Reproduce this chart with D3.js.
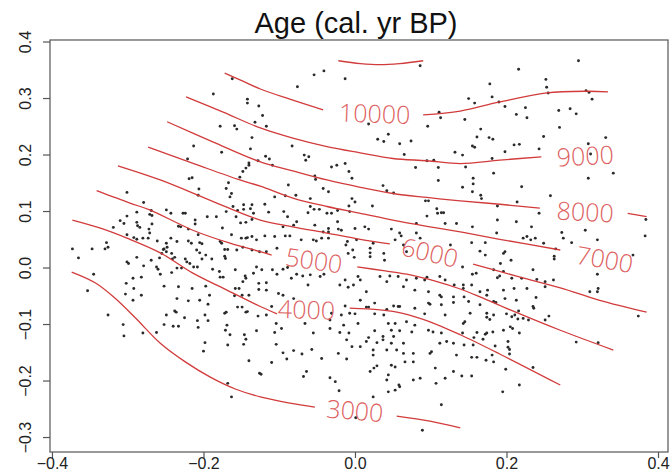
<!DOCTYPE html>
<html><head><meta charset="utf-8">
<script src="https://cdn.jsdelivr.net/npm/d3@7"></script>
<style>body{margin:0;background:#fff}svg{display:block}</style>
</head><body>
<svg id="chart" width="671" height="475"></svg>
<script>
const chartTitle = "Age (cal. yr BP)";
const xTicks = [-0.4, -0.2, 0.0, 0.2, 0.4];
const yTicks = [-0.3, -0.2, -0.1, 0.0, 0.1, 0.2, 0.3, 0.4];
const xLimits = [-0.4026, 0.4132];
const yLimits = [-0.3265, 0.4027];

const sitePoints = [
[-0.162,0.334],[-0.187,0.307],[-0.142,0.298],[-0.142,0.291],[-0.127,0.286],[-0.178,0.250],[-0.159,0.251],[-0.156,0.245],[-0.132,0.257],[-0.136,0.230],[-0.213,0.215],[-0.176,0.204],[-0.138,0.210],[-0.221,0.192],[-0.128,0.189],[-0.140,0.185],[-0.140,0.181],[-0.144,0.176],[-0.148,0.170],[-0.215,0.159],[-0.219,0.157],[-0.152,0.160],
[0.086,0.357],[-0.054,0.341],[-0.041,0.348],[-0.076,0.320],[-0.013,0.334],[-0.122,0.269],[-0.117,0.250],[0.018,0.254],[0.111,0.275],[0.113,0.265],[0.096,0.250],[0.044,0.236],[0.030,0.227],[0.038,0.223],[0.059,0.219],[0.074,0.224],[0.065,0.200],[-0.083,0.215],[-0.118,0.197],[-0.113,0.192],[-0.109,0.181],[-0.067,0.199],[-0.061,0.196],[-0.065,0.190],[-0.031,0.178],[-0.024,0.181],[-0.013,0.184],[-0.008,0.170],[-0.053,0.162],[-0.052,0.156],[0.095,0.189],[0.104,0.190],[0.080,0.177],[0.110,0.177],[0.132,0.204],[-0.004,0.158],
[0.295,0.366],[0.216,0.351],[0.178,0.325],[0.252,0.333],[0.253,0.319],[0.255,0.309],[0.305,0.313],[0.309,0.310],[0.313,0.298],[0.181,0.302],[0.150,0.299],[0.158,0.291],[0.190,0.293],[0.198,0.285],[0.213,0.271],[0.225,0.283],[0.227,0.265],[0.269,0.278],[0.284,0.281],[0.292,0.272],[0.145,0.262],[0.270,0.248],[0.166,0.245],[0.161,0.231],[0.177,0.230],[0.182,0.227],[0.155,0.215],[0.158,0.213],[0.210,0.217],[0.217,0.218],[0.243,0.210],[0.249,0.232],[0.198,0.205],[0.181,0.193],[0.142,0.199],[0.146,0.178],[0.183,0.167],[0.308,0.219],[0.311,0.201],[0.331,0.230],[0.341,0.167],[0.308,0.158],[0.156,0.158],
[-0.206,0.139],[-0.207,0.128],[-0.167,0.150],[-0.170,0.140],[-0.163,0.131],[-0.165,0.125],[-0.301,0.133],[-0.279,0.115],[-0.269,0.101],[-0.271,0.094],[-0.268,0.092],[-0.249,0.102],[-0.243,0.096],[-0.227,0.096],[-0.224,0.096],[-0.211,0.084],[-0.211,0.077],[-0.195,0.090],[-0.183,0.090],[-0.170,0.099],[-0.161,0.108],[-0.155,0.101],[-0.147,0.111],[-0.147,0.103],[-0.138,0.104],[-0.136,0.111],[-0.136,0.085],[-0.144,0.080],[-0.151,0.079],[-0.157,0.090],[-0.134,0.096],[-0.288,0.098],[-0.301,0.091],[-0.310,0.083],[-0.305,0.078],[-0.319,0.071],[-0.288,0.080],[-0.287,0.074],[-0.284,0.071],[-0.272,0.068],[-0.271,0.061],[-0.268,0.077],[-0.233,0.073],[-0.230,0.072],[-0.220,0.068],[-0.207,0.058],[-0.175,0.070],[-0.163,0.058],[-0.150,0.052],[-0.144,0.052],[-0.142,0.053],[-0.136,0.055],[-0.130,0.049],[-0.301,0.058],[-0.292,0.053],[-0.288,0.050],[-0.280,0.052],[-0.273,0.052],[-0.261,0.047],[-0.249,0.043],[-0.248,0.036],[-0.249,0.028],[-0.253,0.032],[-0.243,0.052],[-0.235,0.046],[-0.242,0.025],[-0.220,0.047],[-0.216,0.043],[-0.205,0.044],[-0.202,0.042],[-0.178,0.046],[-0.176,0.043],[-0.172,0.032],[-0.168,0.032],[-0.156,0.031],[-0.148,0.036],[-0.136,0.031],[-0.126,0.028],[-0.328,0.044],[-0.326,0.036],[-0.330,0.033],[-0.347,0.033],[-0.373,0.033],[-0.365,0.017],[-0.301,0.010],[-0.299,0.007],[-0.288,0.018],[-0.279,0.003],[-0.269,0.013],[-0.262,0.001],[-0.260,-0.003],[-0.258,0.017],[-0.255,0.025],[-0.252,0.033],[-0.241,0.015],[-0.238,0.018],[-0.235,-0.001],[-0.229,-0.001],[-0.224,0.015],[-0.222,0.010],[-0.218,0.007],[-0.213,0.001],[-0.208,0.001],[-0.202,0.015],[-0.197,0.022],[-0.205,0.026],[-0.209,0.031],[-0.189,0.015],[-0.188,-0.003],[-0.179,-0.007],[-0.178,-0.017],[-0.174,-0.017],[-0.171,0.016],[-0.172,0.020],[-0.158,-0.004],[-0.145,-0.015],[-0.144,-0.019],[-0.148,-0.025],[-0.134,-0.010],[-0.130,0.001],[-0.127,-0.028],[-0.345,-0.012],[-0.293,-0.019],[-0.282,-0.017],[-0.302,-0.028],[-0.292,-0.037],[-0.303,-0.047],[-0.282,-0.049],[-0.293,-0.058],[-0.252,-0.033],[-0.233,-0.034],[-0.215,-0.037],[-0.235,-0.055],[-0.220,-0.059],[-0.205,-0.058],[-0.197,-0.033],[-0.192,-0.049],[-0.158,-0.037],[-0.153,-0.037],[-0.149,-0.049],[-0.159,-0.050],[-0.140,-0.049],[-0.127,-0.039],[-0.353,-0.041],[-0.257,-0.012],[-0.242,-0.009],
[-0.326,-0.084],[-0.306,-0.101],[-0.305,-0.121],[-0.280,-0.116],[-0.262,-0.115],[-0.252,-0.101],[-0.249,-0.084],[-0.238,-0.077],[-0.236,-0.079],[-0.240,-0.104],[-0.233,-0.104],[-0.225,-0.089],[-0.194,-0.065],[-0.198,-0.084],[-0.208,-0.094],[-0.194,-0.094],[-0.207,-0.106],[-0.198,-0.133],[-0.200,-0.148],[-0.172,-0.081],[-0.170,-0.079],[-0.169,-0.102],[-0.171,-0.111],[-0.165,-0.119],[-0.168,-0.137],[-0.155,-0.070],[-0.149,-0.070],[-0.144,-0.079],[-0.142,-0.078],[-0.128,-0.086],[-0.146,-0.119],[-0.144,-0.127],[-0.147,-0.136],[-0.130,-0.112],[-0.140,-0.165],[-0.126,-0.187],[-0.168,-0.205],[-0.163,-0.229],
[-0.088,0.146],[-0.078,0.128],[-0.042,0.140],[-0.035,0.134],[-0.004,0.122],[0.000,0.116],[0.023,0.109],[0.037,0.145],[0.042,0.136],[0.051,0.132],[0.110,0.154],[0.093,0.118],[0.097,0.118],[0.108,0.104],[0.117,0.097],[-0.119,0.112],[-0.114,0.098],[-0.106,0.125],[-0.092,0.127],[-0.094,0.099],[-0.089,0.090],[-0.059,0.122],[-0.054,0.103],[-0.062,0.097],[-0.047,0.103],[-0.037,0.096],[-0.031,0.096],[-0.023,0.101],[-0.008,0.109],[-0.007,0.099],[-0.023,0.081],[-0.018,0.066],[-0.022,0.068],[-0.035,0.069],[-0.035,0.063],[-0.042,0.063],[-0.053,0.075],[-0.059,0.108],[-0.077,0.081],[-0.081,0.075],[-0.095,0.072],[-0.092,0.056],[-0.086,0.056],[-0.071,0.049],[-0.119,0.056],[-0.106,0.055],[-0.117,0.028],[-0.103,0.034],[-0.055,0.049],[-0.051,0.047],[-0.044,0.052],[-0.035,0.052],[-0.012,0.040],[-0.010,0.046],[0.000,0.069],[0.002,0.049],[0.013,0.072],[0.018,0.068],[0.024,0.043],[0.020,0.034],[0.020,0.026],[0.020,0.019],[0.038,0.025],[0.039,0.013],[-0.003,0.031],[-0.009,0.025],[-0.001,0.018],[0.048,0.068],[0.059,0.061],[0.061,0.056],[0.053,0.049],[0.064,0.040],[0.068,0.028],[0.081,0.061],[0.086,0.052],[0.081,0.078],[0.095,0.091],[0.109,0.096],[0.114,0.097],[0.126,0.040],[0.119,0.078],[0.134,0.078],[-0.123,-0.004],[-0.117,-0.027],[-0.109,-0.004],[-0.103,-0.012],[-0.095,-0.003],[-0.089,0.000],[-0.084,-0.019],[-0.077,-0.012],[-0.069,-0.015],[-0.062,-0.031],[-0.059,-0.013],[-0.046,-0.016],[-0.041,-0.012],[-0.117,-0.040],[-0.101,-0.046],[-0.095,-0.049],[-0.081,-0.055],[-0.020,-0.031],[-0.013,-0.022],[-0.009,-0.035],[-0.002,-0.031],[0.004,-0.016],[0.007,-0.022],[0.015,-0.043],[0.033,-0.016],[0.046,-0.015],[0.042,-0.025],[0.057,-0.016],[0.068,-0.022],[0.081,-0.019],[0.092,-0.022],[0.095,-0.017],[0.112,-0.016],[0.119,-0.022],[0.131,-0.031],[0.079,-0.040],[0.064,-0.034],[0.097,-0.043],[0.114,-0.052],[0.130,-0.052],[0.007,-0.058],[0.018,-0.070],[-0.013,-0.068],[0.026,-0.063],[0.057,-0.069],[0.079,-0.072],[0.097,-0.063],[0.112,-0.049],
[0.156,0.148],[0.155,0.134],[0.142,0.142],[0.166,0.128],[0.167,0.122],[0.220,0.143],[0.258,0.127],[0.214,0.116],[0.188,0.109],[0.243,0.096],[0.188,0.084],[0.213,0.081],[0.233,0.072],[0.155,0.072],[0.222,0.052],[0.227,0.055],[0.232,0.049],[0.238,0.052],[0.187,0.061],[0.304,0.066],[0.273,0.062],[0.275,0.052],[0.286,0.044],[0.320,0.049],[0.383,0.056],[0.384,0.085],[0.154,0.044],[0.172,0.044],[0.165,0.029],[0.172,0.022],[0.198,0.028],[0.196,0.025],[0.206,0.013],[0.192,0.007],[0.249,0.043],[0.265,0.033],[0.263,0.020],[0.263,0.015],[0.367,0.022],[0.320,-0.012],[0.321,-0.037],[0.320,-0.043],[0.310,-0.043],[0.235,-0.004],[0.240,-0.021],[0.251,-0.025],[0.251,-0.034],[0.262,-0.022],[0.220,-0.019],[0.207,-0.019],[0.196,-0.007],[0.191,-0.015],[0.188,-0.018],[0.183,-0.004],[0.142,0.001],[0.143,-0.031],[0.143,-0.037],[0.155,-0.012],[0.160,-0.010],[0.154,-0.031],[0.165,-0.043],[0.175,-0.040],[0.174,-0.049],[0.196,-0.040],[0.210,-0.037],[0.227,-0.037],[0.198,-0.055],[0.213,-0.058],[0.239,-0.053],[0.183,-0.060],[0.186,-0.062],[0.144,-0.052],[0.150,-0.060],[0.165,-0.066],[0.235,-0.069],
[-0.110,-0.069],[-0.117,-0.084],[-0.104,-0.099],[-0.106,-0.115],[-0.097,-0.108],[-0.104,-0.136],[-0.095,-0.151],[-0.110,-0.168],[-0.081,-0.147],[-0.070,-0.153],[-0.090,-0.162],[-0.057,-0.145],[-0.055,-0.116],[-0.066,-0.099],[-0.044,-0.161],[-0.064,-0.184],[-0.068,-0.193],[-0.033,-0.195],[-0.026,-0.202],[-0.021,-0.218],[-0.011,-0.162],[-0.022,-0.152],[-0.033,-0.108],[-0.031,-0.081],[-0.018,-0.084],[-0.007,-0.081],[0.000,-0.082],[-0.033,-0.093],[-0.015,-0.102],[-0.020,-0.115],[-0.008,-0.116],[-0.011,-0.128],[-0.004,-0.140],[0.007,-0.140],[0.004,-0.099],[0.015,-0.070],[0.018,-0.124],[0.015,-0.131],[0.026,-0.112],[0.029,-0.133],[0.024,-0.146],[0.024,-0.155],[0.037,-0.122],[0.037,-0.128],[0.042,-0.146],[0.048,-0.111],[0.051,-0.122],[0.048,-0.134],[0.055,-0.146],[0.064,-0.134],[0.064,-0.152],[0.077,-0.152],[0.066,-0.167],[0.077,-0.167],[0.048,-0.173],[0.053,-0.176],[0.025,-0.178],[0.029,-0.174],[0.020,-0.184],[0.042,-0.199],[0.044,-0.190],[0.058,-0.208],[0.059,-0.211],[0.053,-0.217],[0.044,-0.220],[0.077,-0.199],[0.086,-0.196],[0.024,-0.229],[0.106,-0.178],[0.119,-0.196],[0.107,-0.205],[0.130,-0.184],[0.114,-0.243],[0.001,-0.266],[0.089,-0.288],[-0.124,-0.189],[0.059,-0.112],[0.075,-0.114],[0.079,-0.102],[0.068,-0.096],[0.053,-0.099],[0.044,-0.099],[0.026,-0.082],[0.038,-0.084],[0.042,-0.074],[0.051,-0.068],[0.059,-0.069],[0.092,-0.082],[0.099,-0.065],[0.114,-0.066],[0.130,-0.062],[0.119,-0.084],[0.097,-0.111],[0.103,-0.114],[0.114,-0.116],[0.121,-0.131],[0.112,-0.134],[0.099,-0.152],[0.101,-0.149],[0.130,-0.134],[0.134,-0.155],
[0.152,-0.081],[0.145,-0.096],[0.143,-0.099],[0.174,-0.081],[0.183,-0.084],[0.174,-0.088],[0.178,-0.092],[0.200,-0.082],[0.207,-0.087],[0.211,-0.084],[0.216,-0.077],[0.215,-0.091],[0.222,-0.090],[0.229,-0.093],[0.236,-0.072],[0.251,-0.093],[0.256,-0.086],[0.142,-0.116],[0.161,-0.115],[0.157,-0.124],[0.172,-0.118],[0.174,-0.116],[0.182,-0.114],[0.196,-0.111],[0.205,-0.105],[0.208,-0.108],[0.217,-0.116],[0.169,-0.127],[0.144,-0.137],[0.156,-0.137],[0.185,-0.139],[0.202,-0.131],[0.202,-0.141],[0.204,-0.145],[0.204,-0.153],[0.154,-0.159],[0.161,-0.159],[0.173,-0.164],[0.181,-0.155],[0.183,-0.167],[0.199,-0.180],[0.235,-0.177],[0.141,-0.192],[0.154,-0.192],[0.217,-0.208],[0.195,-0.220],[0.292,-0.132],[0.321,-0.133],[0.374,-0.086]
];

// contour line pieces (data units), split where labels interrupt them
const line10000a = [[-0.172,0.344],[-0.148,0.330],[-0.125,0.316],[-0.086,0.298],[-0.042,0.279]];
const line10000b = [[0.090,0.270],[0.139,0.277],[0.191,0.293],[0.253,0.309],[0.306,0.312],[0.334,0.311]];
const line10000c = [[-0.022,0.366],[0.007,0.361],[0.033,0.359],[0.059,0.361],[0.090,0.366]];
const line9000 = [[-0.223,0.302],[-0.174,0.275],[-0.125,0.247],[-0.082,0.229],[-0.037,0.214],[0.007,0.203],[0.050,0.193],[0.095,0.189],[0.139,0.184],[0.191,0.190],[0.246,0.196]];
const line8000a = [[-0.248,0.258],[-0.187,0.222],[-0.125,0.187],[-0.082,0.171],[-0.037,0.155],[0.007,0.142],[0.050,0.131],[0.095,0.124],[0.139,0.118],[0.191,0.112],[0.244,0.105]];
const line8000b = [[0.360,0.096],[0.385,0.090]];
const line7000 = [[-0.273,0.213],[-0.211,0.183],[-0.152,0.155],[-0.125,0.144],[-0.082,0.123],[-0.037,0.108],[0.007,0.096],[0.050,0.084],[0.095,0.073],[0.139,0.063],[0.191,0.050],[0.271,0.031]];
const line6000a = [[-0.313,0.180],[-0.257,0.155],[-0.191,0.119],[-0.125,0.084],[-0.082,0.072],[-0.037,0.061],[0.007,0.050],[0.046,0.042]];
const line6000b = [[0.156,0.006],[0.218,-0.017],[0.271,-0.036],[0.323,-0.058],[0.385,-0.079]];
const line5000a = [[-0.341,0.136],[-0.297,0.114],[-0.271,0.102],[-0.214,0.066],[-0.165,0.043],[-0.125,0.028],[-0.110,0.022]];
const line5000b = [[0.003,0.001],[0.040,-0.006],[0.073,-0.013],[0.106,-0.024],[0.139,-0.038],[0.165,-0.052],[0.205,-0.075],[0.271,-0.111],[0.341,-0.146]];
const line4000a = [[-0.373,0.084],[-0.337,0.070],[-0.301,0.052],[-0.257,0.026],[-0.214,-0.010],[-0.169,-0.040],[-0.125,-0.069],[-0.103,-0.082]];
const line4000b = [[-0.007,-0.072],[0.033,-0.075],[0.063,-0.081],[0.099,-0.096],[0.139,-0.119],[0.191,-0.153],[0.271,-0.208]];
const line3000a = [[-0.374,-0.008],[-0.343,-0.027],[-0.317,-0.054],[-0.290,-0.089],[-0.257,-0.134],[-0.224,-0.167],[-0.191,-0.194],[-0.158,-0.215],[-0.125,-0.229],[-0.086,-0.240],[-0.053,-0.247]];
const line3000b = [[0.055,-0.263],[0.099,-0.272],[0.139,-0.284]];

const contourPieces = [line10000a, line10000b, line10000c, line9000, line8000a, line8000b,
  line7000, line6000a, line6000b, line5000a, line5000b, line4000a, line4000b, line3000a, line3000b];

const labelLevels = ["10000", "9000", "8000", "7000", "6000", "5000", "4000", "3000"];
const labelX = [0.026, 0.304, 0.304, 0.330, 0.099, -0.054, -0.064, 0.000];
const labelY = [0.274, 0.199, 0.100, 0.016, 0.028, 0.014, -0.073, -0.252];
const labelAngle = [2, -3, 3, 10, 13, 8, 2, 5];

const svg = d3.select("#chart");
const W = 671, H = 475;
const plot = {left: 50, right: 668, top: 40, bottom: 452};
const FONT = "Liberation Sans, Arial, Helvetica, sans-serif";

const x = d3.scaleLinear().domain(xLimits).range([plot.left, plot.right]);
const y = d3.scaleLinear().domain(yLimits).range([plot.bottom, plot.top]);

svg.append("rect").attr("width", W).attr("height", H).attr("fill", "#fff");

// title
svg.append("text")
  .attr("x", 356)
  .attr("y", 33)
  .attr("text-anchor", "middle")
  .attr("font-family", FONT)
  .attr("font-size", 29)
  .attr("fill", "#111")
  .text(chartTitle);

svg.append("defs").append("clipPath").attr("id", "clip")
  .append("rect").attr("x", plot.left).attr("y", plot.top)
  .attr("width", plot.right - plot.left).attr("height", plot.bottom - plot.top);

const g = svg.append("g").attr("clip-path", "url(#clip)");

// points
g.append("g").selectAll("circle").data(sitePoints).join("circle")
  .attr("cx", d => x(d[0])).attr("cy", d => y(d[1]))
  .attr("r", 1.45).attr("fill", "#2a2a2a");

// contour lines
const lineGen = d3.line().x(d => x(d[0])).y(d => y(d[1])).curve(d3.curveCatmullRom.alpha(0.5));
g.append("g").selectAll("path").data(contourPieces).join("path")
  .attr("d", lineGen).attr("fill", "none")
  .attr("stroke", "#d23b3b").attr("stroke-width", 1.3);

// contour labels
g.append("g").selectAll("text").data(labelLevels).join("text")
  .attr("transform", (d, i) => `translate(${x(labelX[i])},${y(labelY[i])}) rotate(${labelAngle[i]})`)
  .attr("text-anchor", "middle")
  .attr("dominant-baseline", "central")
  .attr("font-family", "Open Sans, Liberation Sans, sans-serif")
  .attr("font-weight", 300)
  .attr("font-size", 25)
  .attr("fill", "#dd5f5f")
  .text(d => d);

// frame
svg.append("rect")
  .attr("x", plot.left).attr("y", plot.top)
  .attr("width", plot.right - plot.left).attr("height", plot.bottom - plot.top)
  .attr("fill", "none").attr("stroke", "#555").attr("stroke-width", 1.2);

const fmt = d3.format(".1f");

const xAxis = svg.append("g").attr("transform", `translate(0,${plot.bottom})`)
  .call(d3.axisBottom(x).tickValues(xTicks).tickFormat(fmt).tickSize(6).tickPadding(0));
xAxis.select(".domain").remove();
xAxis.selectAll("line").attr("stroke", "#555").attr("stroke-width", 1.2);
xAxis.selectAll("text").attr("font-family", FONT)
  .attr("font-size", 16).attr("fill", "#222");

const yAxis = svg.append("g").attr("transform", `translate(${plot.left},0)`)
  .call(d3.axisLeft(y).tickValues(yTicks).tickFormat(fmt).tickSize(7));
yAxis.select(".domain").remove();
yAxis.selectAll("line").attr("stroke", "#555").attr("stroke-width", 1.2);
yAxis.selectAll("text")
  .attr("x", 0).attr("y", -19).attr("dy", 0)
  .attr("transform", "rotate(-90)")
  .attr("text-anchor", "middle")
  .attr("font-family", FONT)
  .attr("font-size", 16).attr("fill", "#222");
</script>
</body></html>
